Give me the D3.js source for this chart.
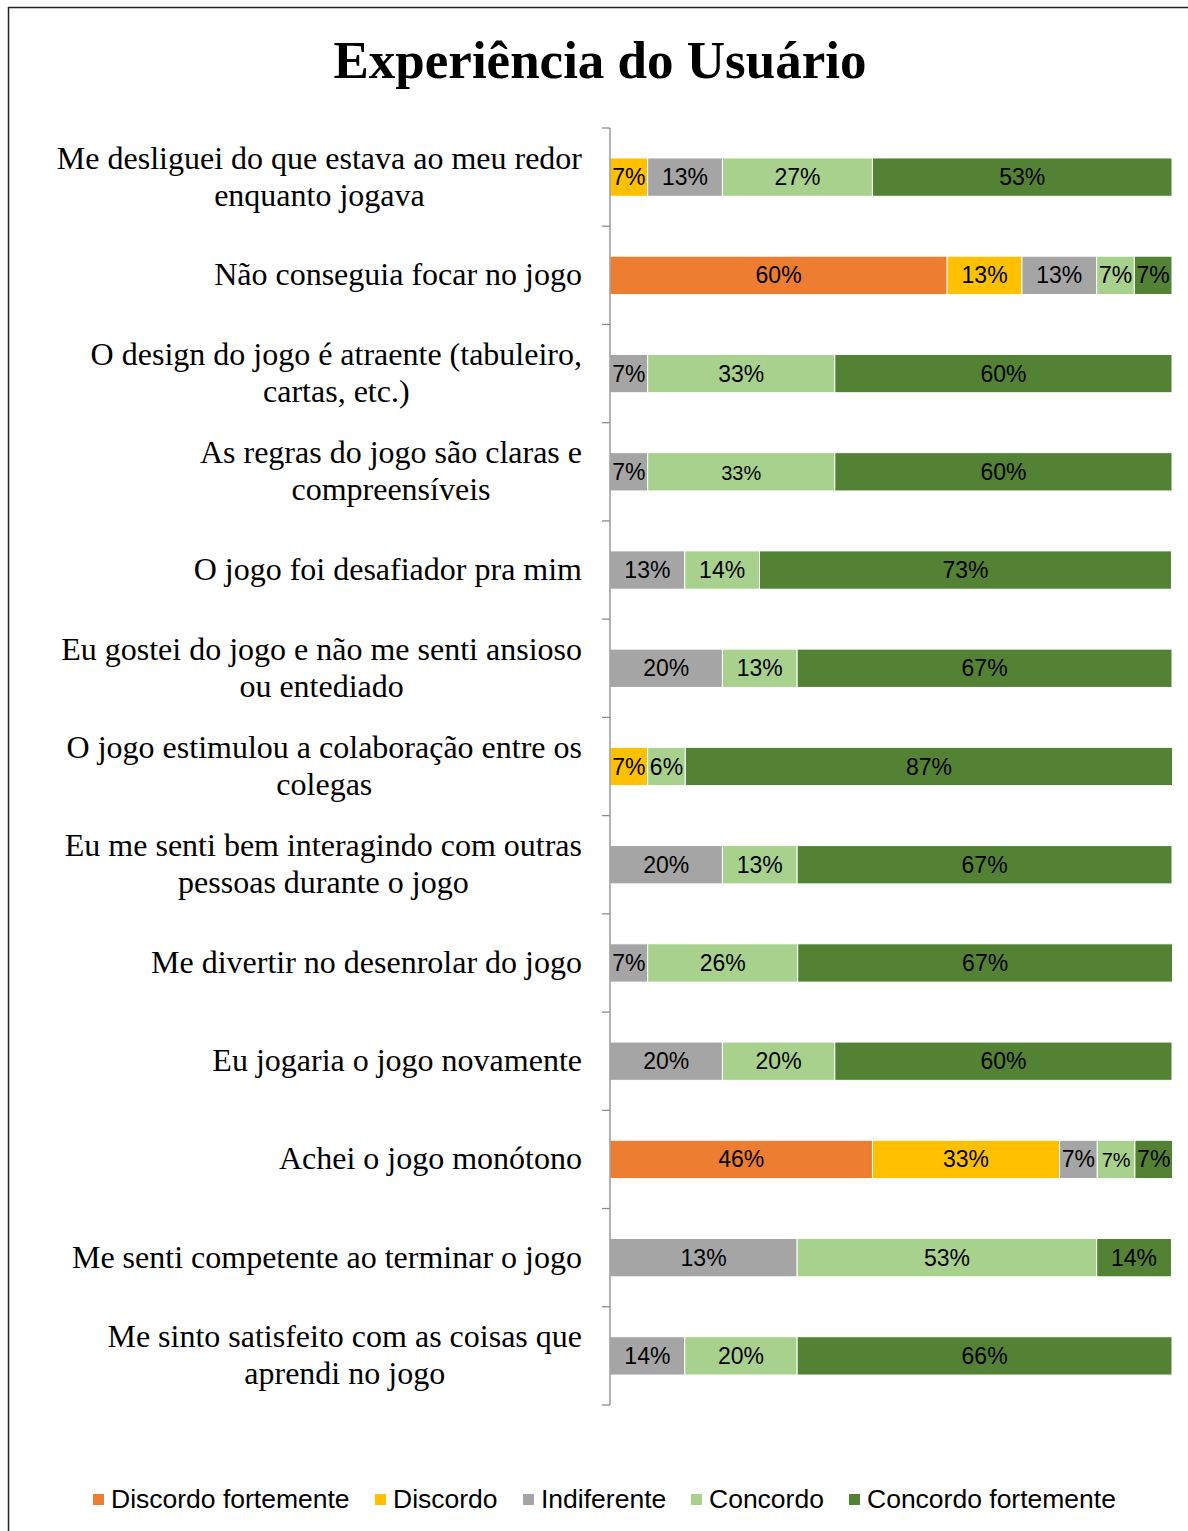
<!DOCTYPE html>
<html>
<head>
<meta charset="utf-8">
<script src="https://cdn.jsdelivr.net/npm/d3@7"></script>
<style>
  body { margin: 0; background: #fff; }
  svg { display: block; }
</style>
</head>
<body>
<div id="chart"></div>
<script>
// categories, top to bottom ("\n" = line break in the label)
var categories = [
  "Me desliguei do que estava ao meu redor\nenquanto jogava",
  "Não conseguia focar no jogo",
  "O design do jogo é atraente (tabuleiro,\ncartas, etc.)",
  "As regras do jogo são claras e\ncompreensíveis",
  "O jogo foi desafiador pra mim",
  "Eu gostei do jogo e não me senti ansioso\nou entediado",
  "O jogo estimulou a colaboração entre os\ncolegas",
  "Eu me senti bem interagindo com outras\npessoas durante o jogo",
  "Me divertir no desenrolar do jogo",
  "Eu jogaria o jogo novamente",
  "Achei o jogo monótono",
  "Me senti competente ao terminar o jogo",
  "Me sinto satisfeito com as coisas que\naprendi no jogo"
];

var seriesNames = ["Discordo fortemente", "Discordo", "Indiferente", "Concordo", "Concordo fortemente"];
var seriesColors = ["#ED7D31", "#FFC000", "#A5A5A5", "#A9D18E", "#548235"];

// segment widths (share of answers, %)
var discordoFortemente = [0, 60, 0, 0, 0, 0, 0, 0, 0, 0, 46.7, 0, 0];
var discordo           = [6.7, 13.3, 0, 0, 0, 0, 6.7, 0, 0, 0, 33.3, 0, 0];
var indiferente        = [13.3, 13.3, 6.7, 6.7, 13.3, 20, 0, 20, 6.7, 20, 6.7, 33.3, 13.3];
var concordo           = [26.7, 6.7, 33.3, 33.3, 13.3, 13.3, 6.7, 13.3, 26.7, 20, 6.7, 53.3, 20];
var concordoFortemente = [53.3, 6.7, 60, 60, 73.3, 66.7, 86.7, 66.7, 66.7, 60, 6.7, 13.3, 66.7];

// data labels as printed on the bars
var lblDiscordoFortemente = ["", "60%", "", "", "", "", "", "", "", "", "46%", "", ""];
var lblDiscordo           = ["7%", "13%", "", "", "", "", "7%", "", "", "", "33%", "", ""];
var lblIndiferente        = ["13%", "13%", "7%", "7%", "13%", "20%", "", "20%", "7%", "20%", "7%", "13%", "14%"];
var lblConcordo           = ["27%", "7%", "33%", "33%", "14%", "13%", "6%", "13%", "26%", "20%", "7%", "53%", "20%"];
var lblConcordoFortemente = ["53%", "7%", "60%", "60%", "73%", "67%", "87%", "67%", "67%", "60%", "7%", "14%", "66%"];

var seriesValues = [discordoFortemente, discordo, indiferente, concordo, concordoFortemente];
var seriesLabels = [lblDiscordoFortemente, lblDiscordo, lblIndiferente, lblConcordo, lblConcordoFortemente];

// a couple of labels were printed in a smaller font (series-row)
var smallLabels = ["3-3", "3-10"];

var width = 1188, height = 1531;
var svg = d3.select("#chart").append("svg")
    .attr("width", width)
    .attr("height", height);

// outer frame
svg.append("rect")
    .attr("x", 8.5).attr("y", 7.5)
    .attr("width", 1200).attr("height", 1560)
    .style("fill", "none")
    .style("stroke", "#222")
    .style("stroke-width", 1.5);

// title
svg.append("text")
    .attr("x", 600)
    .attr("y", 78)
    .attr("text-anchor", "middle")
    .style("font-family", "'Liberation Serif', 'Times New Roman', serif")
    .style("font-weight", "bold")
    .style("font-size", "53px")
    .text("Experiência do Usuário");

// build rows for stacking
var rows = categories.map(function(c, i) {
    var r = { cat: c, idx: i };
    seriesNames.forEach(function(s, k) { r[s] = seriesValues[k][i]; });
    return r;
});
var stacked = d3.stack().keys(seriesNames)(rows);

var x = d3.scaleLinear().domain([0, 100]).range([610, 1172]);
var y = d3.scaleBand().domain(d3.range(categories.length)).range([128, 1405]).paddingInner(0.61).paddingOuter(0.305);

// bars
var groups = svg.selectAll("g.series")
    .data(stacked)
    .enter()
    .append("g")
    .attr("class", "series")
    .style("fill", function(d, k) { return seriesColors[k]; });

groups.selectAll("rect")
    .data(function(d) { return d.filter(function(p) { return p[1] - p[0] > 0; }); })
    .enter()
    .append("rect")
    .attr("x", function(p) { return x(p[0]); })
    .attr("y", function(p) { return y(p.data.idx); })
    .attr("width", function(p) { return x(p[1]) - x(p[0]); })
    .attr("height", y.bandwidth())
    .style("stroke", "#fff")
    .style("stroke-width", 1);

// data labels
stacked.forEach(function(layer, k) {
    svg.append("g").selectAll("text")
        .data(layer.filter(function(p) { return p[1] - p[0] > 0; }))
        .enter()
        .append("text")
        .attr("x", function(p) { return (x(p[0]) + x(p[1])) / 2; })
        .attr("y", function(p) { return y(p.data.idx) + y.bandwidth() / 2 + 8; })
        .attr("text-anchor", "middle")
        .style("font-family", "'Liberation Sans', Arial, sans-serif")
        .style("font-size", function(p) { return smallLabels.indexOf(k + "-" + p.data.idx) >= 0 ? "20px" : "23px"; })
        .style("fill", "#000")
        .text(function(p) { return seriesLabels[k][p.data.idx]; });
});

// category axis
var axisX = 610;
svg.append("line")
    .attr("x1", axisX).attr("x2", axisX)
    .attr("y1", 128).attr("y2", 1405)
    .style("stroke", "#8c8c8c").style("stroke-width", 1.3);

var tickYs = d3.range(categories.length + 1).map(function(i) { return 128 + i * (1405 - 128) / categories.length; });
svg.selectAll("line.tick")
    .data(tickYs)
    .enter()
    .append("line")
    .attr("class", "tick")
    .attr("x1", axisX - 8).attr("x2", axisX)
    .attr("y1", function(d) { return d; }).attr("y2", function(d) { return d; })
    .style("stroke", "#8c8c8c").style("stroke-width", 1.3);

// category labels (right aligned block, lines centred inside the block)
var lineH = 37;
var catG = svg.append("g")
    .style("font-family", "'Liberation Serif', 'Times New Roman', serif")
    .style("font-size", "32px")
    .style("fill", "#000");

categories.forEach(function(c, i) {
    var lines = c.split("\n");
    var cy = y(i) + y.bandwidth() / 2;
    var texts = lines.map(function(ln, j) {
        return catG.append("text")
            .attr("y", cy + 10 + (j - (lines.length - 1) / 2) * lineH)
            .attr("text-anchor", "middle")
            .text(ln);
    });
    var maxW = d3.max(texts, function(t) { return t.node().getComputedTextLength(); });
    texts.forEach(function(t) { t.attr("x", 582 - maxW / 2); });
});

// legend
var legendX = [93, 375, 523, 691, 849];
var legend = svg.append("g");
seriesNames.forEach(function(s, k) {
    legend.append("rect")
        .attr("x", legendX[k]).attr("y", 1494)
        .attr("width", 11).attr("height", 11)
        .style("fill", seriesColors[k]);
    legend.append("text")
        .attr("x", legendX[k] + 18)
        .attr("y", 1508)
        .style("font-family", "'Liberation Sans', Arial, sans-serif")
        .style("font-size", "26.5px")
        .style("fill", "#000")
        .text(s);
});
</script>
</body>
</html>
